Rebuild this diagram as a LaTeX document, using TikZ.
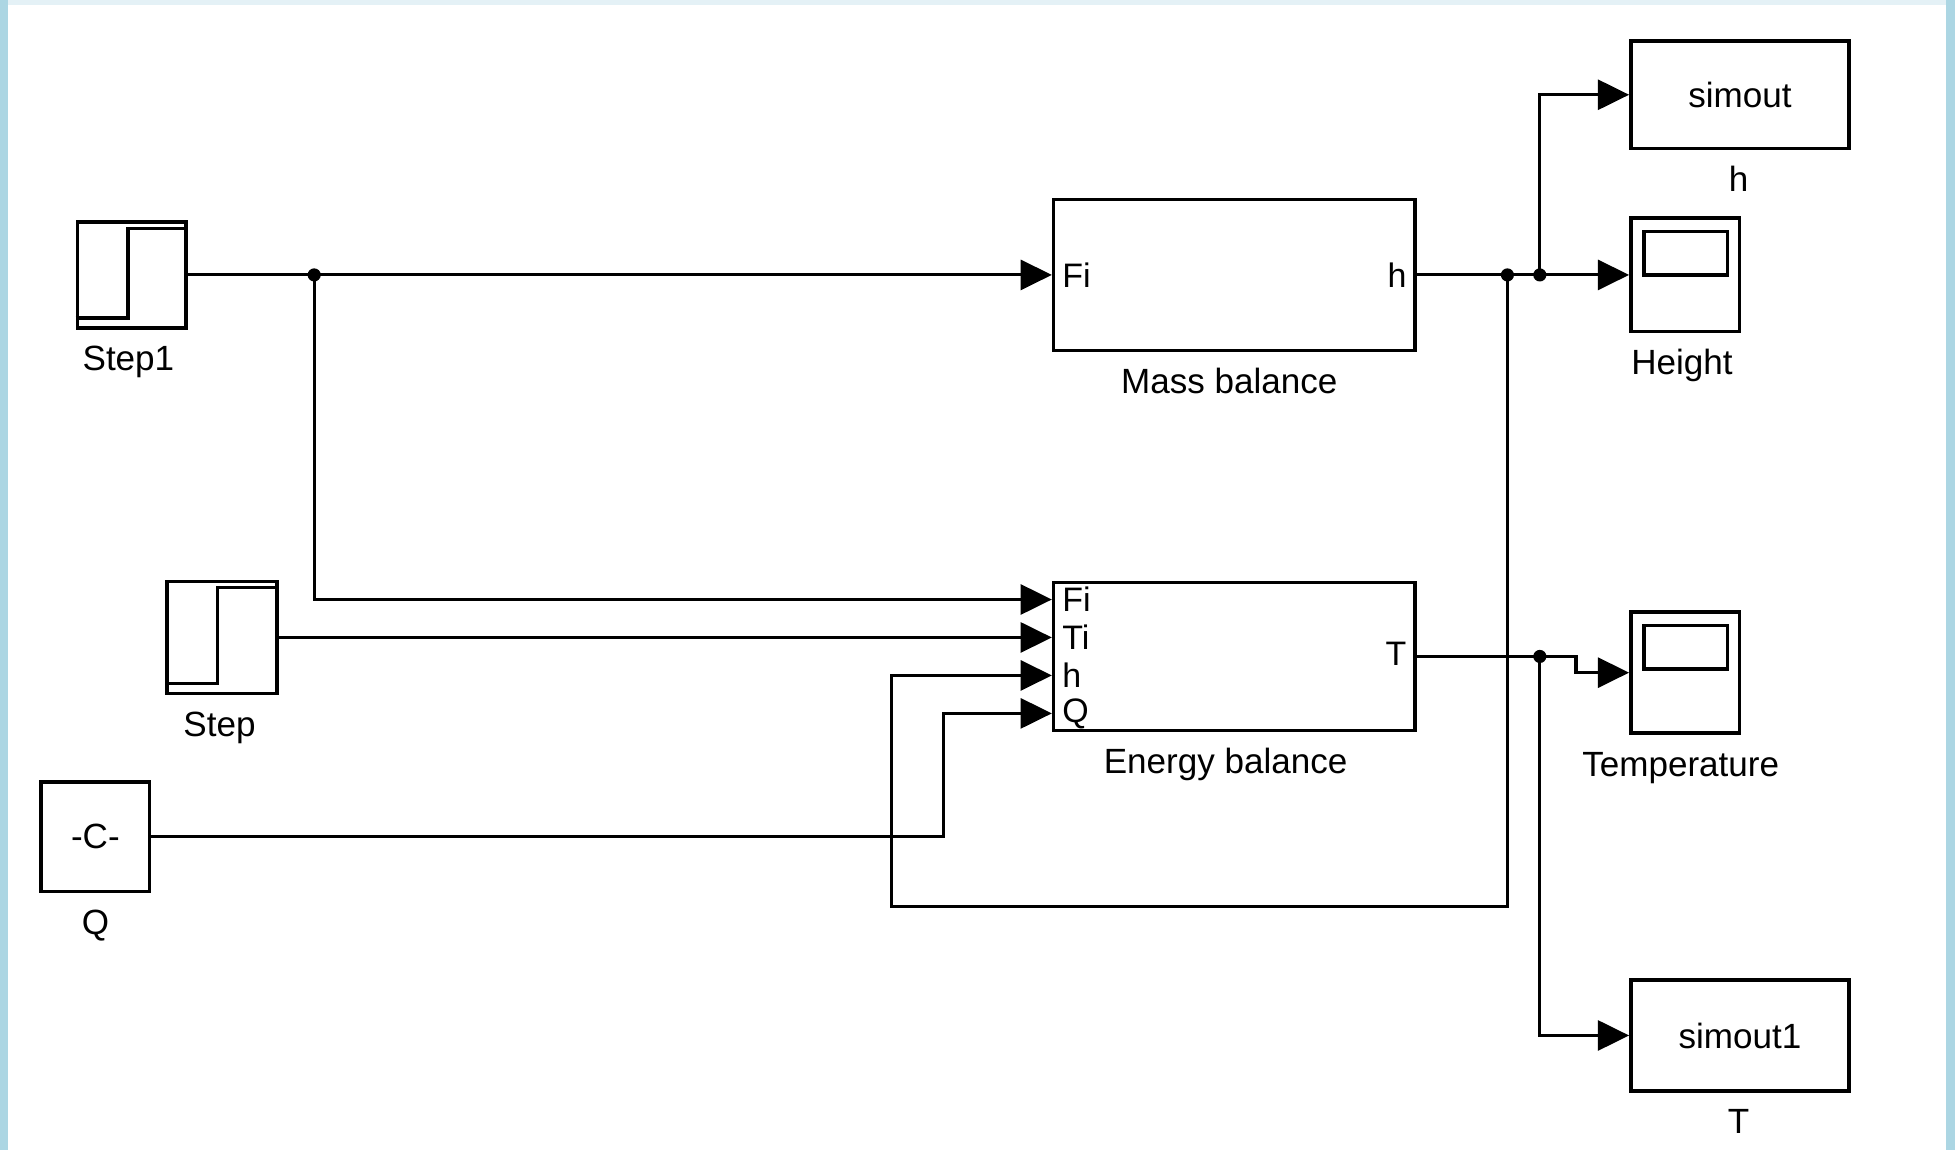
\documentclass[tikz,border=0pt]{standalone}
\usepackage{fontspec}
\setmainfont{Liberation Sans}
\usetikzlibrary{arrows.meta,positioning,calc}

\definecolor{edgeblue}{RGB}{172,214,227}
\definecolor{edgetop}{RGB}{228,241,246}

\tikzset{
    block/.style={draw, line width=1.6pt, rectangle, inner sep=0pt, fill=white,
        font=\fontsize{16}{19}\selectfont},
    wire/.style={line width=1.4pt},
    sig/.style={wire, -{Triangle[length=5mm,width=4.8mm]}},
    caption/.style={inner sep=0pt, font=\fontsize{16}{19}\selectfont},
    port/.style={inner sep=0pt, font=\fontsize{15.5}{18}\selectfont},
}

\begin{document}
\begin{tikzpicture}[x=0.02cm, y=-0.02cm]
        \useasboundingbox (0,0) rectangle (1568,922);
        \fill[white] (0,0) rectangle (1568,922);
        \fill[edgetop] (0,0) rectangle (1568,4);
        \fill[edgeblue] (0,0) rectangle (6.5,922);
        \fill[edgeblue] (1561,0) rectangle (1568,922);

        % subsystems
        \node[block, minimum width=5.8cm, minimum height=2.42cm] (mass) at (990,220.5) {};
        \node[block, minimum width=5.8cm, minimum height=2.38cm] (energy) at (990,526.5) {};
        \node[port, anchor=west] (mass-fi) at ($(mass.west)+(8,0)$) {Fi};
        \node[port, anchor=east] (mass-h) at ($(mass.east)+(-8,0)$) {h};
        \node[port, anchor=east] (energy-t) at ($(energy.east)+(-8,-2)$) {T};
        \foreach \i/\f in {1/0.125,2/0.375,3/0.625,4/0.875}
            \coordinate (e\i) at ($(energy.north west)!\f!(energy.south west)$);
        \foreach \i/\t in {1/Fi,2/Ti,3/h,4/Q}
            \node[port, anchor=west] (energy-p\i) at ($(e\i)+(8,0)$) {\t};

        % sources
        \node[block, minimum width=1.74cm, minimum height=1.70cm] (step1) at (105.5,0 |- mass.west) {};
        \node[block, minimum width=1.76cm, minimum height=1.80cm] (step) at (178,0 |- e2) {};
        \node[block, minimum width=1.74cm, minimum height=1.76cm] (q) at (76.5,671) {-C-};
        \foreach \s in {step1,step}
            \draw[line width=1.6pt] ($(\s.south west)+(0,-9.5)$) -- ++(42,0) |- ($(\s.north east)+(0,6.5)$);

        % sinks
        \node[block, minimum width=3.5cm, minimum height=1.72cm] (simout) at (1395.5,76) {simout};
        \node[block, minimum width=1.74cm, minimum height=1.82cm] (height) at (1351.5,0 |- mass.east) {};
        \node[block, minimum width=1.74cm, minimum height=1.94cm] (temp) at (1351.5,539.5) {};
        \node[block, minimum width=3.5cm, minimum height=1.78cm] (simout1) at (1395.5,830.5) {simout1};
        \foreach \s in {height,temp}
            \draw[line width=1.6pt] ($(\s.north west)+(12,12)$) rectangle ($(\s.north east)+(-11,47)$);

        % captions
        \foreach \n/\t/\dx in {step1/Step1/-2.5,step/Step/-2,q/Q/0,mass/Mass balance/-4,
                energy/Energy balance/-7,simout/h/-1,height/Height/-2.5,
                temp/Temperature/-3.5,simout1/T/-1}
            \node[caption, anchor=base] (\n-cap) at ($(\n.south)+(\dx,33)$) {\t};

        % branch points
        \coordinate (j1) at (252,0 |- mass.west);
        \coordinate (j2) at (1209,0 |- mass.east);
        \coordinate (j3) at (1235,0 |- mass.east);
        \coordinate (j4) at (1235,0 |- energy.east);
        \coordinate (qb) at (757,0 |- q.east);
        \coordinate (hb) at (715,727);
        \coordinate (tb) at (1264,0 |- energy.east);

        % signals
        \draw[sig] (step1.east) -- (mass.west);
        \draw[sig] (j1) |- (e1);
        \draw[sig] (step.east) -- (e2);
        \draw[sig] (j2) |- (hb) |- (e3);
        \draw[sig] (q.east) -- (qb) |- (e4);
        \draw[sig] (mass.east) -- (height.west);
        \draw[sig] (j3) |- (simout.west);
        \draw[sig] (energy.east) -- (tb) |- (temp.west);
        \draw[sig] (j4) |- (simout1.west);
        \foreach \j in {j1,j2,j3,j4}
            \fill (\j) circle[radius=3pt];
\end{tikzpicture}
\end{document}
